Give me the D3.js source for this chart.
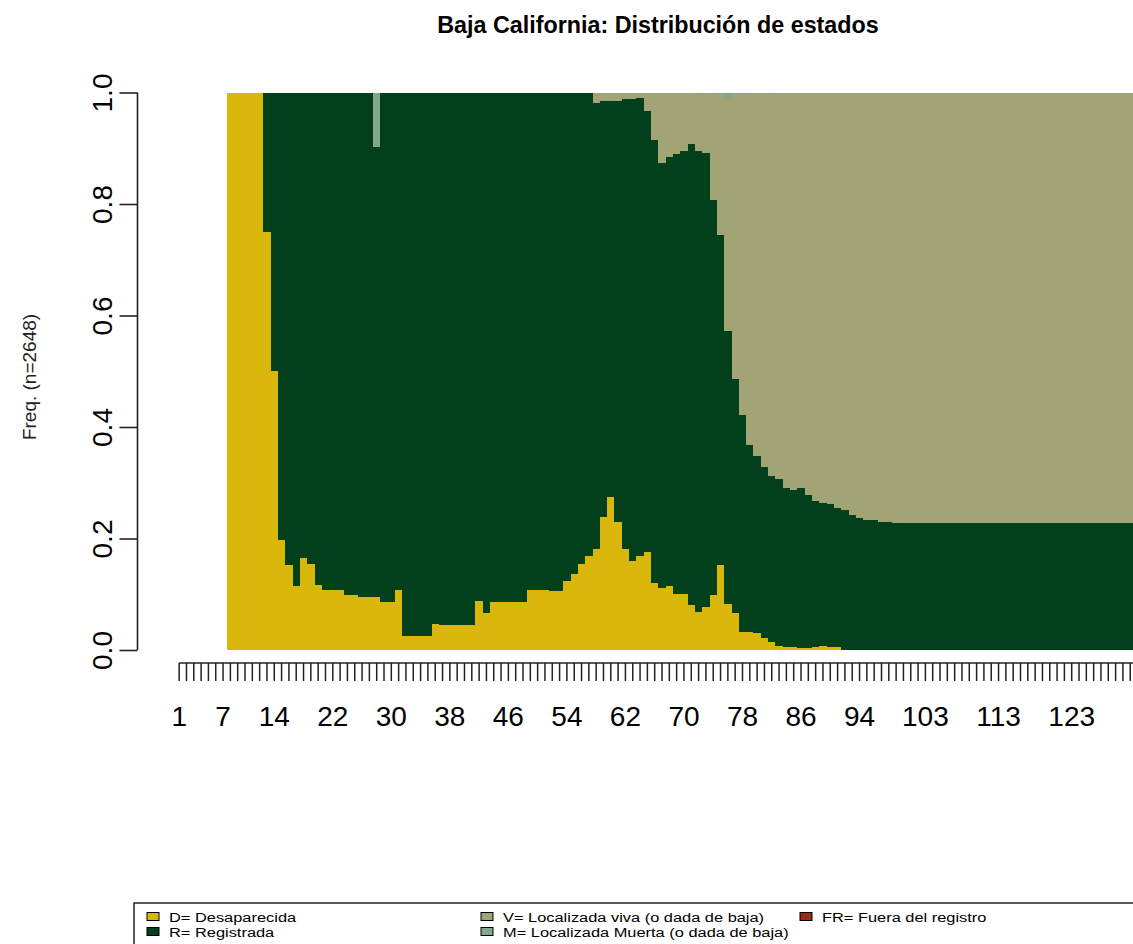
<!DOCTYPE html>
<html>
<head>
<meta charset="utf-8">
<script src="https://cdn.jsdelivr.net/npm/d3@7"></script>
<style>
  body { margin: 0; background: #fff; }
  svg { display: block; }
  text { font-family: "Liberation Sans", Arial, sans-serif; fill: #000; }
</style>
</head>
<body>
<svg id="chart" width="1133" height="944"></svg>
<script>
// Time positions (months since registration), 1..132
const positions = d3.range(1, 133);

// Positions that carry a printed label on the x axis
const xLabels = [1, 7, 14, 22, 30, 38, 46, 54, 62, 70, 78, 86, 94, 103, 113, 123];

const yTicks = [0, 0.2, 0.4, 0.6, 0.8, 1.0];

// State proportions at each position (positions 1-7 have no observations)
const D = [
  0, 0, 0, 0, 0, 0, 0, 1, 1, 1,
  1, 1, 0.75, 0.5, 0.197, 0.152, 0.114, 0.165, 0.155, 0.117,
  0.108, 0.108, 0.108, 0.098, 0.098, 0.095, 0.095, 0.095, 0.086, 0.086,
  0.108, 0.025, 0.025, 0.025, 0.025, 0.047, 0.044, 0.044, 0.044, 0.044,
  0.044, 0.088, 0.067, 0.086, 0.086, 0.086, 0.086, 0.086, 0.107, 0.107,
  0.107, 0.105, 0.105, 0.123, 0.136, 0.155, 0.168, 0.181, 0.238, 0.274,
  0.229, 0.181, 0.159, 0.168, 0.175, 0.120, 0.111, 0.114, 0.101, 0.101,
  0.081, 0.069, 0.077, 0.098, 0.152, 0.082, 0.066, 0.033, 0.033, 0.031,
  0.021, 0.014, 0.008, 0.005, 0.005, 0.003, 0.003, 0.006, 0.008, 0.005,
  0.005, 0, 0, 0, 0, 0, 0, 0, 0, 0,
  0, 0, 0, 0, 0, 0, 0, 0, 0, 0,
  0, 0, 0, 0, 0, 0, 0, 0, 0, 0,
  0, 0, 0, 0, 0, 0, 0, 0, 0, 0,
  0, 0
];

const R = [
  0, 0, 0, 0, 0, 0, 0, 0, 0, 0,
  0, 0, 0.25, 0.5, 0.803, 0.848, 0.886, 0.835, 0.845, 0.883,
  0.892, 0.892, 0.892, 0.902, 0.902, 0.905, 0.905, 0.807, 0.914, 0.914,
  0.892, 0.975, 0.975, 0.975, 0.975, 0.953, 0.956, 0.956, 0.956, 0.956,
  0.956, 0.912, 0.933, 0.914, 0.914, 0.914, 0.914, 0.914, 0.893, 0.893,
  0.893, 0.895, 0.895, 0.877, 0.864, 0.845, 0.832, 0.801, 0.747, 0.711,
  0.756, 0.807, 0.829, 0.823, 0.791, 0.794, 0.762, 0.771, 0.788, 0.794,
  0.827, 0.826, 0.815, 0.710, 0.592, 0.490, 0.420, 0.388, 0.334, 0.317,
  0.308, 0.299, 0.298, 0.285, 0.282, 0.287, 0.275, 0.262, 0.256, 0.256,
  0.250, 0.252, 0.242, 0.236, 0.233, 0.233, 0.230, 0.230, 0.227, 0.227,
  0.227, 0.227, 0.227, 0.227, 0.227, 0.227, 0.227, 0.227, 0.227, 0.227,
  0.227, 0.227, 0.227, 0.227, 0.227, 0.227, 0.227, 0.227, 0.227, 0.227,
  0.227, 0.227, 0.227, 0.227, 0.227, 0.227, 0.227, 0.227, 0.227, 0.227,
  0.227, 0.227
];

const V = [
  0, 0, 0, 0, 0, 0, 0, 0, 0, 0,
  0, 0, 0, 0, 0, 0, 0, 0, 0, 0,
  0, 0, 0, 0, 0, 0, 0, 0, 0, 0,
  0, 0, 0, 0, 0, 0, 0, 0, 0, 0,
  0, 0, 0, 0, 0, 0, 0, 0, 0, 0,
  0, 0, 0, 0, 0, 0, 0, 0.018, 0.015, 0.015,
  0.015, 0.012, 0.012, 0.009, 0.034, 0.086, 0.127, 0.115, 0.111, 0.105,
  0.092, 0.100, 0.108, 0.190, 0.254, 0.419, 0.511, 0.576, 0.630, 0.652,
  0.671, 0.685, 0.694, 0.710, 0.713, 0.710, 0.722, 0.732, 0.736, 0.739,
  0.745, 0.748, 0.758, 0.764, 0.767, 0.767, 0.770, 0.770, 0.773, 0.773,
  0.773, 0.773, 0.773, 0.773, 0.773, 0.773, 0.773, 0.773, 0.773, 0.773,
  0.773, 0.773, 0.773, 0.773, 0.773, 0.773, 0.773, 0.773, 0.773, 0.773,
  0.773, 0.773, 0.773, 0.773, 0.773, 0.773, 0.773, 0.773, 0.773, 0.773,
  0.773, 0.773
];

const M = [
  0, 0, 0, 0, 0, 0, 0, 0, 0, 0,
  0, 0, 0, 0, 0, 0, 0, 0, 0, 0,
  0, 0, 0, 0, 0, 0, 0, 0.098, 0, 0,
  0, 0, 0, 0, 0, 0, 0, 0, 0, 0,
  0, 0, 0, 0, 0, 0, 0, 0, 0, 0,
  0, 0, 0, 0, 0, 0, 0, 0, 0, 0,
  0, 0, 0, 0, 0, 0, 0, 0, 0, 0,
  0, 0.005, 0, 0.002, 0.002, 0.009, 0.003, 0.003, 0.003, 0,
  0, 0.002, 0, 0, 0, 0, 0, 0, 0, 0,
  0, 0, 0, 0, 0, 0, 0, 0, 0, 0,
  0, 0, 0, 0, 0, 0, 0, 0, 0, 0,
  0, 0, 0, 0, 0, 0, 0, 0, 0, 0,
  0, 0, 0, 0, 0, 0, 0, 0, 0, 0,
  0, 0
];

const FR = [
  0, 0, 0, 0, 0, 0, 0, 0, 0, 0,
  0, 0, 0, 0, 0, 0, 0, 0, 0, 0,
  0, 0, 0, 0, 0, 0, 0, 0, 0, 0,
  0, 0, 0, 0, 0, 0, 0, 0, 0, 0,
  0, 0, 0, 0, 0, 0, 0, 0, 0, 0,
  0, 0, 0, 0, 0, 0, 0, 0, 0, 0,
  0, 0, 0, 0, 0, 0, 0, 0, 0, 0,
  0, 0, 0, 0, 0, 0, 0, 0, 0, 0,
  0, 0, 0, 0, 0, 0, 0, 0, 0, 0,
  0, 0, 0, 0, 0, 0, 0, 0, 0, 0,
  0, 0, 0, 0, 0, 0, 0, 0, 0, 0,
  0, 0, 0, 0, 0, 0, 0, 0, 0, 0,
  0, 0, 0, 0, 0, 0, 0, 0, 0, 0,
  0, 0
];

const stateKeys = ["D", "R", "V", "M", "FR"];
const stateColors = ["#D8B70A", "#02401B", "#A2A475", "#81A88D", "#972D15"];
const stateLabels = [
  "D= Desaparecida",
  "R= Registrada",
  "V= Localizada viva (o dada de baja)",
  "M= Localizada Muerta (o dada de baja)",
  "FR= Fuera del registro"
];

const title = "Baja California: Distribución de estados";
const yTitle = "Freq. (n=2648)";

// ---- layout ----
const svg = d3.select("#chart");
const plotLeft = 175.5, step = 7.316;
const yTop = 92.5, yBottom = 650;

const x = d3.scaleBand()
  .domain(positions)
  .range([plotLeft, plotLeft + positions.length * step])
  .paddingInner(0).paddingOuter(0);

const y = d3.scaleLinear().domain([0, 1]).range([yBottom, yTop]);

const color = d3.scaleOrdinal().domain(stateKeys).range(stateColors);

// table of proportions per position, stacked bottom-up in state order
const table = positions.map((p, i) => ({
  pos: p, D: D[i], R: R[i], V: V[i], M: M[i], FR: FR[i]
}));
const series = d3.stack().keys(stateKeys)(table);

svg.append("g")
  .attr("shape-rendering", "crispEdges")
  .selectAll("g")
  .data(series)
  .join("g")
    .attr("fill", s => color(s.key))
  .selectAll("rect")
  .data(s => s.filter(d => d[1] - d[0] > 0))
  .join("rect")
    .attr("x", d => x(d.data.pos))
    .attr("width", x.bandwidth())
    .attr("y", d => y(d[1]))
    .attr("height", d => y(d[0]) - y(d[1]));

// ---- x axis ----
const xAxisY = 663;
const labelSet = new Set(xLabels);
const gx = svg.append("g")
  .attr("transform", `translate(0,${xAxisY})`)
  .call(d3.axisBottom(x)
    .tickValues(positions)
    .tickSize(18)
    .tickSizeOuter(0)
    .tickFormat(d => labelSet.has(d) ? d : ""));
gx.select(".domain").remove();
gx.selectAll(".tick line").attr("stroke", "#222").attr("stroke-width", 1.5);
gx.selectAll(".tick text")
  .attr("y", 63).attr("dy", null)
  .style("font-size", "28px")
  .style("font-family", "'Liberation Sans', Arial, sans-serif")
  .attr("fill", "#000");
gx.append("line")
  .attr("x1", x(positions[0]) + x.bandwidth() / 2)
  .attr("x2", x(positions[positions.length - 1]) + x.bandwidth() / 2)
  .attr("stroke", "#222").attr("stroke-width", 1.6);

// ---- y axis ----
const yAxisX = 137.5;
const gy = svg.append("g")
  .attr("transform", `translate(${yAxisX},0)`)
  .call(d3.axisLeft(y)
    .tickValues(yTicks)
    .tickSize(18)
    .tickSizeOuter(0)
    .tickFormat(d3.format(".1f")));
gy.select(".domain").remove();
gy.selectAll(".tick line").attr("stroke", "#222").attr("stroke-width", 1.6);
gy.selectAll(".tick text")
  .attr("transform", "rotate(-90)")
  .attr("x", 0).attr("y", -25.5).attr("dy", null)
  .attr("text-anchor", "middle")
  .style("font-size", "28px")
  .style("font-family", "'Liberation Sans', Arial, sans-serif")
  .attr("fill", "#000");
gy.append("line")
  .attr("y1", y(0)).attr("y2", y(1))
  .attr("stroke", "#222").attr("stroke-width", 1.6);

svg.append("text")
  .attr("transform", "translate(36,377) rotate(-90)")
  .attr("text-anchor", "middle")
  .style("font-size", "19px")
  .style("fill", "#222")
  .text(yTitle);

// ---- title ----
svg.append("text")
  .attr("x", 658).attr("y", 33)
  .attr("text-anchor", "middle")
  .style("font-size", "23.3px")
  .style("font-weight", "bold")
  .text(title);

// ---- legend ----
const legend = svg.append("g");
legend.append("rect")
  .attr("x", 134).attr("y", 903)
  .attr("width", 1050).attr("height", 60)
  .attr("fill", "none").attr("stroke", "#000").attr("stroke-width", 1.3);

const legendCols = [147, 481, 800];
const legendRows = [917, 932];
const legendItems = stateKeys.map((k, i) => ({
  key: k,
  label: stateLabels[i],
  col: Math.floor(i / 2),
  row: i % 2
}));
const li = legend.selectAll("g.item")
  .data(legendItems)
  .join("g")
    .attr("class", "item")
    .attr("transform", d => `translate(${legendCols[d.col]},${legendRows[d.row]})`);
li.append("rect")
  .attr("x", 0).attr("y", -4.5)
  .attr("width", 12).attr("height", 8)
  .attr("fill", d => color(d.key))
  .attr("stroke", "#000").attr("stroke-width", 1);
// legend labels are set in a vertically condensed face so the two rows fit
li.append("text")
  .attr("transform", "translate(22,5) scale(1,0.8)")
  .style("font-size", "16.4px")
  .text(d => d.label);
</script>
</body>
</html>
